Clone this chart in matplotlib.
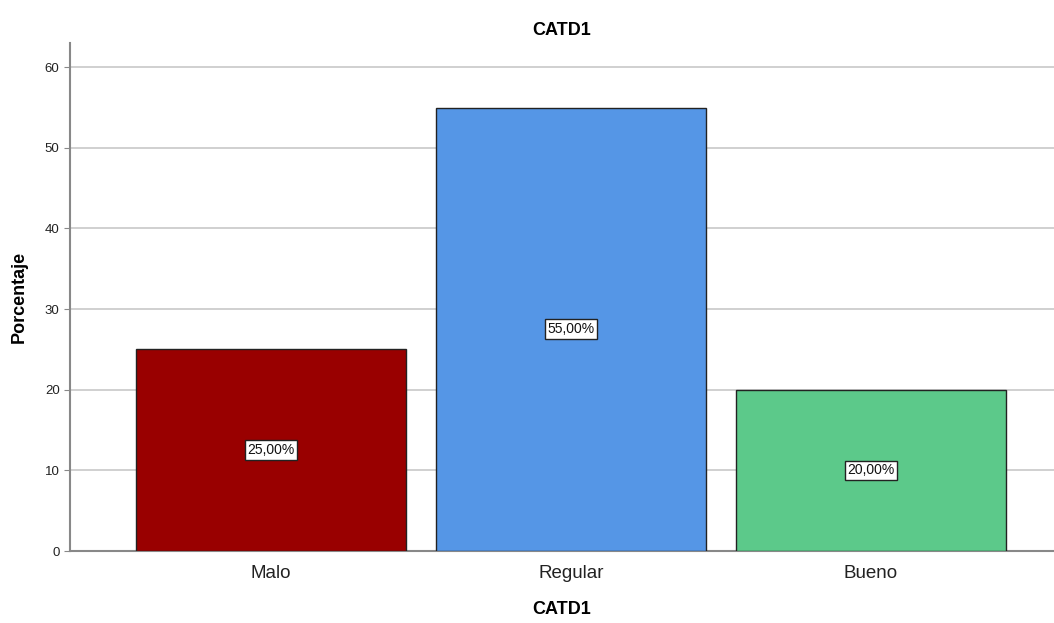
import matplotlib.pyplot as plt

categorias = ['Malo', 'Regular', 'Bueno']
porcentajes = [25.0, 55.0, 20.0]
colores = ['#990000', '#5596e6', '#5cc98a']

plt.rcParams['font.family'] = ['Liberation Sans', 'DejaVu Sans']

fig = plt.figure(figsize=(10.54, 6.23), dpi=100)
ax = fig.add_axes([70 / 1054, 72 / 623, 984 / 1054, 508 / 623])

x = range(len(categorias))
ax.bar(x, porcentajes, width=0.9, color=colores, edgecolor='#222222', linewidth=1, zorder=3)

# etiquetas de porcentaje en el centro de cada barra
for i, v in zip(x, porcentajes):
    ax.text(i, v / 2, f"{v:.2f}%".replace('.', ','), ha='center', va='center', fontsize=10,
            color='#111111', zorder=4,
            bbox=dict(boxstyle='square,pad=0.2', facecolor='white', edgecolor='#222222', linewidth=1))

ax.set_xlim(-0.67, 2.61)
ax.set_ylim(0, 63)
ax.set_yticks([0, 10, 20, 30, 40, 50, 60])
ax.set_xticks(list(x))
ax.set_xticklabels(categorias, fontsize=13.5, color='#222222')
ax.tick_params(axis='y', labelsize=9.5, length=4, color='#888888', labelcolor='#222222')
ax.tick_params(axis='x', length=0, pad=10)
ax.grid(axis='y', color='#c8c8c8', linewidth=1.2, zorder=0)

for lado in ['top', 'right']:
    ax.spines[lado].set_visible(False)
ax.spines['left'].set_color('#888888')
ax.spines['bottom'].set_color('#888888')
ax.spines['left'].set_linewidth(1.5)
ax.spines['bottom'].set_linewidth(1.5)

ax.set_title('CATD1', fontsize=13, fontweight='bold', pad=6)
ax.set_xlabel('CATD1', fontsize=13, fontweight='bold', labelpad=14)
ax.set_ylabel('Porcentaje', fontsize=13, fontweight='bold', labelpad=12)

fig.savefig('out.png', dpi=100)
